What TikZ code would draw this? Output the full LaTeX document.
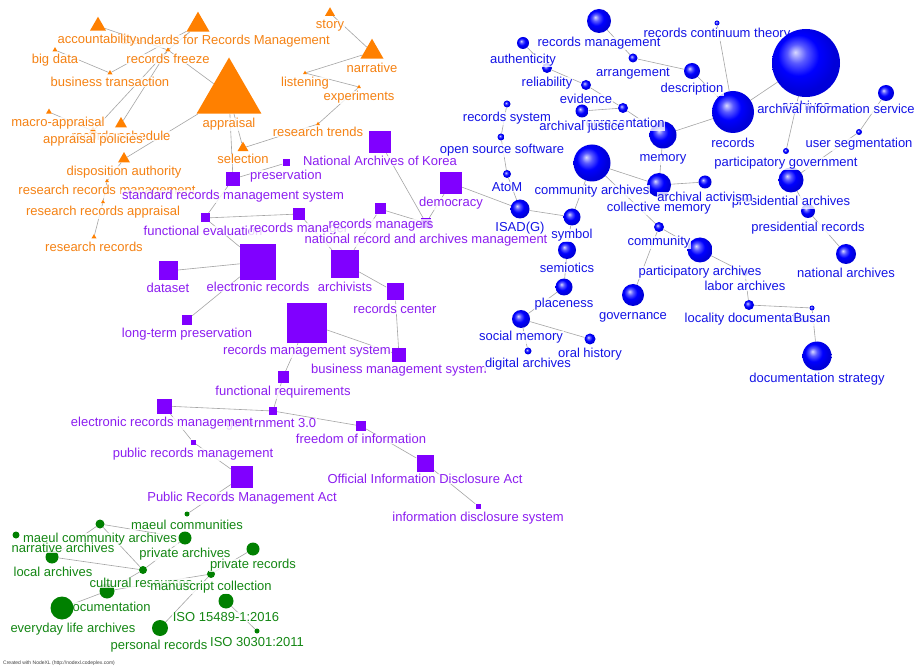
\documentclass[tikz,border=0pt]{standalone}
\usepackage{fontspec}
\setmainfont{Liberation Sans}
\usetikzlibrary{shapes.geometric}
\pgfdeclarelayer{edgelayer}
\pgfsetlayers{edgelayer,main}
\definecolor{orangeS}{RGB}{255,128,0}
\definecolor{orangeT}{RGB}{245,130,20}
\definecolor{purpleS}{RGB}{128,0,255}
\definecolor{purpleT}{RGB}{140,30,240}
\definecolor{blueT}{RGB}{20,20,230}
\definecolor{greenS}{RGB}{0,128,0}
\definecolor{greenT}{RGB}{20,135,20}
\definecolor{edgegray}{RGB}{165,165,165}
\pgfdeclareradialshading{bsphere}{\pgfqpoint{-8bp}{8bp}}{color(0bp)=(blue!15!white); color(7bp)=(blue!65!white); color(15bp)=(blue); color(25bp)=(blue!85!black); color(50bp)=(blue!85!black)}
\newcommand\lblfont{\fontsize{13}{13}\selectfont}
\tikzset{
  edge/.style={draw=edgegray, line width=0.6pt},
  tri/.style={regular polygon, regular polygon sides=3, fill=orangeS, inner sep=0pt, minimum size=#1},
  sq/.style={rectangle, fill=purpleS, inner sep=0pt, minimum size=#1},
  ball/.style={circle, inner sep=0pt, minimum size=#1, shade, shading=bsphere},
  gdot/.style={circle, fill=greenS, inner sep=0pt, minimum size=#1},
  lab/.style={font=\lblfont, anchor=base, yshift=-4.6pt, inner sep=0.6pt, fill=white, fill opacity=0.8, text opacity=1},
  ol/.style={lab, text=orangeT},
  pl/.style={lab, text=purpleT},
  bl/.style={lab, text=blueT},
  gl/.style={lab, text=greenT},
}
\begin{document}
\begin{tikzpicture}[x=1pt,y=-1pt]
\useasboundingbox (0,0) rectangle (916,668);
\begin{pgfonlayer}{edgelayer}
\fill[white] (0,0) rectangle (916,668);
\end{pgfonlayer}

% ---------- orange triangles
\node[tri=18.5] (acc) at (98,26) {};
\node[tri=26.6] (std) at (198,25) {};
\node[tri=5.8] (bigdata) at (55,50) {};
\node[tri=5.8] (bustr) at (110,73) {};
\node[tri=5.8] (freeze) at (168,50) {};
\node[tri=6.9] (macro) at (49,112) {};
\node[tri=13.9] (sched) at (121,124) {};
\node[tri=9.2] (apol) at (93,131) {};
\node[tri=13.9] (dispo) at (124,159) {};
\node[tri=4.6] (rrm) at (107,181) {};
\node[tri=4.6] (rra) at (103,202) {};
\node[tri=5.8] (rr) at (94,237) {};
\node[tri=75] (appr) at (229,95) {};
\node[tri=12.7] (sel) at (243,148) {};
\node[tri=11.5] (story) at (330,13) {};
\node[tri=26.6] (narr) at (372,52) {};
\node[tri=4.6] (listen) at (305,73) {};
\node[tri=4.6] (exper) at (359,87) {};
\node[tri=4.6] (rtrend) at (318,124) {};

% ---------- purple squares
\node[sq=14] (srms) at (233,179) {};
\node[sq=7] (pres) at (286,163) {};
\node[sq=9] (feval) at (205,218) {};
\node[sq=12] (rmgr) at (299,214) {};
\node[sq=11] (rmgrs) at (380,209) {};
\node[sq=10] (nram) at (426,223) {};
\node[sq=22] (nak) at (380,142) {};
\node[sq=22] (demo) at (451,183) {};
\node[sq=36] (erec) at (258,262) {};
\node[sq=19] (dataset) at (168,271) {};
\node[sq=10] (ltp) at (187,320) {};
\node[sq=28] (archv) at (345,264) {};
\node[sq=17] (rcenter) at (395,292) {};
\node[sq=40] (rms) at (307,323) {};
\node[sq=14] (bms) at (399,355) {};
\node[sq=11] (freq) at (283,377) {};
\node[sq=15] (erm) at (164,406) {};
\node[sq=8] (gov) at (273,411) {};
\node[sq=10] (foi) at (361,426) {};
\node[sq=17] (oida) at (425,463) {};
\node[sq=5] (ids) at (478,506) {};
\node[sq=5] (prm) at (193,442) {};
\node[sq=22] (prma) at (242,477) {};

% ---------- blue spheres (archives drawn later)
\node[ball=24] (recmgmt) at (599,21) {};
\node[ball=9] (arrang) at (633,58) {};
\node[ball=16] (descr) at (692,71) {};
\node[ball=42] (records) at (733,112) {};
\node[ball=5] (rct) at (717,23) {};
\coordinate (archc) at (806,63);
\node[ball=16] (ais) at (886,93) {};
\node[ball=6] (pgov) at (786,151) {};
\node[ball=6] (userseg) at (859,132) {};
\node[ball=25] (presarch) at (791,180) {};
\node[ball=14] (presrec) at (808,211) {};
\node[ball=20] (natarch) at (846,254) {};
\node[ball=27] (memory) at (663,135) {};
\node[ball=24] (collmem) at (659,185) {};
\node[ball=13] (activism) at (705,182) {};
\node[ball=37] (commarch) at (592,163) {};
\node[ball=10] (community) at (659,227) {};
\node[ball=17] (symbol) at (572,217) {};
\node[ball=19] (isad) at (520,209) {};
\node[ball=8] (atom) at (507,174) {};
\node[ball=7] (oss) at (501,137) {};
\node[ball=7] (recsys) at (507,104) {};
\node[ball=12] (authent) at (523,43) {};
\node[ball=10] (reliab) at (547,68) {};
\node[ball=10] (evid) at (586,85) {};
\node[ball=10] (repres) at (623,108) {};
\node[ball=13] (justice) at (582,111) {};
\node[ball=18] (semio) at (567,250) {};
\node[ball=17] (placen) at (564,287) {};
\node[ball=18] (socmem) at (521,319) {};
\node[ball=11] (oral) at (590,339) {};
\node[ball=7] (digit) at (528,351) {};
\node[ball=22] (govern) at (633,295) {};
\node[ball=25] (partarch) at (700,250) {};
\node[ball=6] (labor) at (745,273) {};
\node[ball=10] (locality) at (749,305) {};
\node[ball=5] (busan) at (812,308) {};
\node[ball=29] (docstrat) at (817,356) {};

% ---------- green disks (everyday drawn later)
\node[gdot=5] (maeulc) at (187,514) {};
\node[gdot=9] (mca) at (100,524) {};
\node[gdot=7] (narrarch) at (16,535) {};
\node[gdot=13] (localarch) at (52,557) {};
\node[gdot=8] (cultres) at (143,570) {};
\node[gdot=13] (privarch) at (185,538) {};
\node[gdot=13] (privrec) at (253,549) {};
\node[gdot=8] (manus) at (211,574) {};
\node[gdot=16] (personal) at (160,628) {};
\node[gdot=15] (iso15489) at (226,601) {};
\node[gdot=5] (iso30301) at (257,631) {};
\node[gdot=15] (docum) at (107,591) {};
\coordinate (everyc) at (62,608);

% ---------- edges (on the layer behind shapes)
\begin{pgfonlayer}{edgelayer}
\begin{scope}[edge]
\draw (acc) -- (freeze);
\draw (bigdata) -- (bustr);
\draw (bustr) -- (std);
\draw (freeze) -- (std);
\draw (freeze) -- (appr);
\draw (freeze) -- (apol);
\draw (freeze) -- (sched);
\draw (macro) -- (apol);
\draw (appr) -- (dispo);
\draw (dispo) -- (rrm);
\draw (rrm) -- (rra);
\draw (rra) -- (rr);
\draw (appr) -- (sel);
\draw (appr) -- (srms);
\draw (sel) -- (rtrend);
\draw (rtrend) -- (exper);
\draw (exper) -- (listen);
\draw (listen) -- (narr);
\draw (narr) -- (story);
\draw (srms) -- (pres);
\draw (srms) -- (feval);
\draw (feval) -- (rmgr);
\draw (feval) -- (erec);
\draw (rmgr) -- (archv);
\draw (archv) -- (rmgrs);
\draw (rmgrs) -- (nram);
\draw (nak) -- (nram);
\draw (demo) -- (nram);
\draw (archv) -- (rcenter);
\draw (rcenter) -- (bms);
\draw (rms) -- (bms);
\draw (rms) -- (freq);
\draw (dataset) -- (erec);
\draw (erec) -- (ltp);
\draw (freq) -- (gov);
\draw (erm) -- (gov);
\draw (gov) -- (foi);
\draw (foi) -- (oida);
\draw (oida) -- (ids);
\draw (erm) -- (prm);
\draw (prm) -- (prma);
\draw (prma) -- (maeulc);
\draw (demo) -- (isad);
\draw (recmgmt) -- (arrang);
\draw (arrang) -- (descr);
\draw (descr) -- (records);
\draw (rct) -- (records);
\draw (records) -- (archc);
\draw (records) -- (memory);
\draw (archc) -- (pgov);
\draw (ais) -- (userseg);
\draw (userseg) -- (presarch);
\draw (presarch) -- (presrec);
\draw (presrec) -- (natarch);
\draw (memory) -- (collmem);
\draw (collmem) -- (activism);
\draw (commarch) -- (collmem);
\draw (commarch) -- (community);
\draw (commarch) -- (symbol);
\draw (isad) -- (symbol);
\draw (atom) -- (isad);
\draw (oss) -- (atom);
\draw (recsys) -- (oss);
\draw (authent) -- (reliab);
\draw (reliab) -- (evid);
\draw (evid) -- (repres);
\draw (justice) -- (repres);
\draw (repres) -- (memory);
\draw (symbol) -- (semio);
\draw (semio) -- (placen);
\draw (placen) -- (socmem);
\draw (socmem) -- (oral);
\draw (socmem) -- (digit);
\draw (community) -- (govern);
\draw (community) -- (partarch);
\draw (partarch) -- (labor);
\draw (labor) -- (locality);
\draw (locality) -- (busan);
\draw (busan) -- (docstrat);
\draw (mca) -- (privarch);
\draw (mca) -- (cultres);
\draw (mca) -- (localarch);
\draw (localarch) -- (cultres);
\draw (cultres) -- (privarch);
\draw (docum) -- (cultres);
\draw (docum) -- (manus);
\draw (manus) -- (privrec);
\draw (manus) -- (personal);
\draw (iso15489) -- (iso30301);
\draw (docum) -- (everyc);
\end{scope}
\end{pgfonlayer}

% ---------- labels
\node[ol] (l-std) at (225,40) {Standards for Records Management};
\node[ol] (l-acc) at (97,39) {accountability};
\node[ol] (l-bigdata) at (55,59) {big data};
\node[ol] (l-bustr) at (110,82) {business transaction};
\node[ol] (l-freeze) at (168,59) {records freeze};
\node[ol] (l-macro) at (58,122) {macro-appraisal};
\node[ol] (l-sched) at (121,136) {records schedule};
\node[ol] (l-apol) at (93,139) {appraisal policies};
\node[ol] (l-dispo) at (124,171) {disposition authority};
\node[ol] (l-rrm) at (107,190) {research records management};
\node[ol] (l-rra) at (103,211) {research records appraisal};
\node[ol] (l-rr) at (94,247) {research records};
\node[ol] (l-appr) at (229,123) {appraisal};
\node[ol] (l-sel) at (243,159) {selection};
\node[ol] (l-story) at (330,24) {story};
\node[ol] (l-narr) at (372,68) {narrative};
\node[ol] (l-listen) at (305,82) {listening};
\node[ol] (l-exper) at (359,96) {experiments};
\node[ol] (l-rtrend) at (318,132) {research trends};

\node[pl] (l-srms) at (233,195) {standard records management system};
\node[pl] (l-pres) at (286,175) {preservation};
\node[pl] (l-feval) at (203,231) {functional evaluation};
\node[pl] (l-rmgr) at (299,228) {records manager};
\node[pl] (l-rmgrs) at (381,224) {records managers};
\node[pl] (l-nram) at (426,239) {national record and archives management};
\node[pl] (l-nak) at (380,161) {National Archives of Korea};
\node[pl] (l-demo) at (451,202) {democracy};
\node[pl] (l-erec) at (258,287) {electronic records};
\node[pl] (l-dataset) at (168,288) {dataset};
\node[pl] (l-ltp) at (187,333) {long-term preservation};
\node[pl] (l-archv) at (345,287) {archivists};
\node[pl] (l-rcenter) at (395,309) {records center};
\node[pl] (l-rms) at (307,350) {records management system};
\node[pl] (l-bms) at (399,369) {business management system};
\node[pl] (l-freq) at (283,391) {functional requirements};
\node[pl] (l-gov) at (271,423) {government 3.0};
\node[pl] (l-erm) at (162,422) {electronic records management};
\node[pl] (l-foi) at (361,439) {freedom of information};
\node[pl] (l-oida) at (425,479) {Official Information Disclosure Act};
\node[pl] (l-ids) at (478,517) {information disclosure system};
\node[pl] (l-prm) at (193,453) {public records management};
\node[pl] (l-prma) at (242,497) {Public Records Management Act};

\node[bl] (l-rct) at (717,33) {records continuum theory};
\node[ball=68] (archives) at (archc) {};
\node[bl] (l-recmgmt) at (599,42) {records management};
\node[bl] (l-arrang) at (633,72) {arrangement};
\node[bl] (l-descr) at (692,88) {description};
\node[bl] (l-records) at (733,143) {records};
\node[bl] (l-archives) at (806,106) {archives};
\node[bl] (l-ais) at (836,109) {archival information service};
\node[bl] (l-pgov) at (786,162) {participatory government};
\node[bl] (l-userseg) at (859,143) {user segmentation};
\node[bl] (l-presarch) at (791,201) {presidential archives};
\node[bl] (l-presrec) at (808,227) {presidential records};
\node[bl] (l-natarch) at (846,273) {national archives};
\node[bl] (l-memory) at (663,157) {memory};
\node[bl] (l-collmem) at (659,207) {collective memory};
\node[bl] (l-activism) at (705,197) {archival activism};
\node[bl] (l-commarch) at (592,190) {community archives};
\node[bl] (l-community) at (659,241) {community};
\node[bl] (l-symbol) at (572,234) {symbol};
\node[bl] (l-isad) at (520,227) {ISAD(G)};
\node[bl] (l-atom) at (507,187) {AtoM};
\node[bl] (l-oss) at (502,149) {open source software};
\node[bl] (l-recsys) at (507,117) {records system};
\node[bl] (l-authent) at (523,59) {authenticity};
\node[bl] (l-reliab) at (547,82) {reliability};
\node[bl] (l-evid) at (586,99) {evidence};
\node[bl] (l-repres) at (623,123) {representation};
\node[bl] (l-justice) at (582,126) {archival justice};
\node[bl] (l-semio) at (567,268) {semiotics};
\node[bl] (l-placen) at (564,303) {placeness};
\node[bl] (l-socmem) at (521,336) {social memory};
\node[bl] (l-oral) at (590,353) {oral history};
\node[bl] (l-digit) at (528,363) {digital archives};
\node[bl] (l-govern) at (633,315) {governance};
\node[bl] (l-partarch) at (700,271) {participatory archives};
\node[bl] (l-labor) at (745,286) {labor archives};
\node[bl] (l-locality) at (749,318) {locality documentation};
\node[bl] (l-busan) at (812,318) {Busan};
\node[bl] (l-docstrat) at (817,378) {documentation strategy};

\node[gl] (l-maeulc) at (187,525) {maeul communities};
\node[gl] (l-mca) at (100,538) {maeul community archives};
\node[gl] (l-narrarch) at (63,548) {narrative archives};
\node[gl] (l-localarch) at (53,572) {local archives};
\node[gl] (l-privarch) at (185,553) {private archives};
\node[gl] (l-privrec) at (253,564) {private records};
\node[gl] (l-cultres) at (141,583) {cultural resources};
\node[gl] (l-manus) at (211,586) {manuscript collection};
\node[gl] (l-iso15489) at (226,617) {ISO 15489-1:2016};
\node[gl] (l-iso30301) at (257,642) {ISO 30301:2011};
\node[gl] (l-personal) at (159,645) {personal records};
\node[gl] (l-docum) at (108,607) {documentation};
\node[gdot=23] (everyday) at (everyc) {};
\node[gl] (l-everyday) at (73,628) {everyday life archives};

\node[anchor=west, font=\fontsize{5}{5}\selectfont, text=black!75, inner sep=0pt] (credit) at (3,663) {Created with NodeXL (http://nodexl.codeplex.com)};
\end{tikzpicture}
\end{document}
